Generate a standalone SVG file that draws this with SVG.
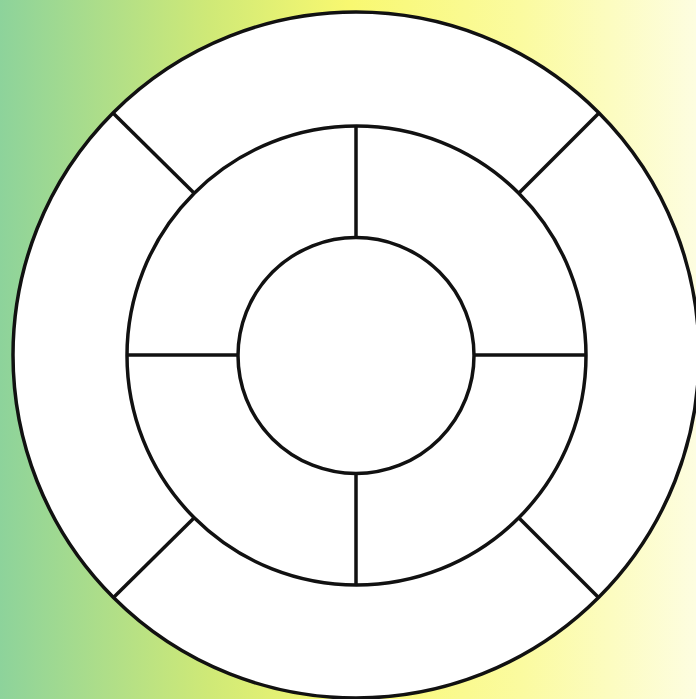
<svg xmlns="http://www.w3.org/2000/svg" width="696" height="699" viewBox="0 0 696 699">
<defs>
<linearGradient id="bg" x1="0" y1="0" x2="1" y2="0">
<stop offset="0" stop-color="#8dd39b"/>
<stop offset="0.3" stop-color="#cfe977"/>
<stop offset="0.5" stop-color="#f8f870"/>
<stop offset="0.75" stop-color="#fbfba0"/>
<stop offset="1" stop-color="#fdfde0"/>
</linearGradient>
<style>
.c{fill:#fff;stroke:#111;stroke-width:3.5}
.l{stroke:#111;stroke-width:3.5;fill:none}
</style>
</defs>
<rect width="696" height="699" fill="url(#bg)"/>
<g id="outer-ring"><circle class="c" cx="356" cy="355" r="343"/></g>
<g id="middle-ring"><circle class="c" cx="356.5" cy="355.5" r="229.5"/></g>
<g id="inner-circle"><circle class="c" cx="356" cy="355.5" r="118"/></g>
<g id="connectors">
<line class="l" x1="356" y1="126" x2="356" y2="238"/>
<line class="l" x1="356" y1="473" x2="356" y2="585"/>
<line class="l" x1="127" y1="355" x2="238" y2="355"/>
<line class="l" x1="474" y1="355" x2="586" y2="355"/>
<line class="l" x1="113" y1="113" x2="194" y2="193"/>
<line class="l" x1="599" y1="113" x2="519" y2="193"/>
<line class="l" x1="113" y1="598" x2="194" y2="518"/>
<line class="l" x1="599" y1="598" x2="519" y2="518"/>
</g>
</svg>
